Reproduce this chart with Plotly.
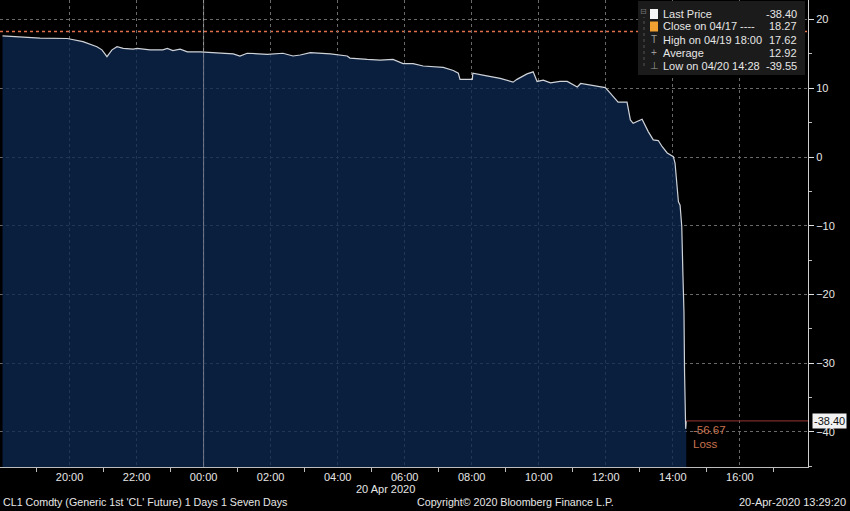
import plotly.graph_objects as go

# ---- data ----
times = [
    "2020-04-19 18:00", "2020-04-19 18:31", "2020-04-19 19:07", "2020-04-19 19:56",
    "2020-04-19 20:24", "2020-04-19 20:49", "2020-04-19 20:58", "2020-04-19 21:07",
    "2020-04-19 21:16", "2020-04-19 21:25", "2020-04-19 21:36", "2020-04-19 21:54",
    "2020-04-19 22:01", "2020-04-19 22:24", "2020-04-19 22:47", "2020-04-19 22:55",
    "2020-04-19 23:05", "2020-04-19 23:18", "2020-04-19 23:31", "2020-04-19 23:54",
    "2020-04-20 00:24", "2020-04-20 00:53", "2020-04-20 01:05", "2020-04-20 01:18",
    "2020-04-20 01:54", "2020-04-20 02:22", "2020-04-20 02:40", "2020-04-20 02:53",
    "2020-04-20 03:11", "2020-04-20 03:47", "2020-04-20 04:17", "2020-04-20 04:22",
    "2020-04-20 04:53", "2020-04-20 05:16", "2020-04-20 05:39", "2020-04-20 05:57",
    "2020-04-20 06:15", "2020-04-20 06:33", "2020-04-20 07:09", "2020-04-20 07:27",
    "2020-04-20 07:36", "2020-04-20 07:39", "2020-04-20 08:01", "2020-04-20 08:02",
    "2020-04-20 08:27", "2020-04-20 08:51", "2020-04-20 09:14", "2020-04-20 09:21",
    "2020-04-20 09:39", "2020-04-20 09:50", "2020-04-20 09:57", "2020-04-20 10:08",
    "2020-04-20 10:21", "2020-04-20 10:38", "2020-04-20 10:51", "2020-04-20 11:09",
    "2020-04-20 11:15", "2020-04-20 11:50", "2020-04-20 11:59", "2020-04-20 12:08",
    "2020-04-20 12:22", "2020-04-20 12:38", "2020-04-20 12:44", "2020-04-20 12:49",
    "2020-04-20 13:05", "2020-04-20 13:16", "2020-04-20 13:25", "2020-04-20 13:34",
    "2020-04-20 13:41", "2020-04-20 13:50", "2020-04-20 14:01", "2020-04-20 14:04",
    "2020-04-20 14:10", "2020-04-20 14:13", "2020-04-20 14:16", "2020-04-20 14:18",
    "2020-04-20 14:20", "2020-04-20 14:21", "2020-04-20 14:23", "2020-04-20 14:24",
]
prices = [
    17.62, 17.5, 17.3, 17.25,
    16.8, 16.05, 15.6, 14.6,
    15.6, 16.05, 15.8, 15.7,
    15.8, 15.6, 15.6, 15.8,
    15.5, 15.7, 15.3, 15.3,
    15.2, 15.0, 14.7, 15.1,
    14.95, 15.1, 14.7, 14.85,
    15.2, 15.0, 14.7, 14.4,
    14.2, 14.1, 14.2, 13.6,
    13.6, 13.25, 13.05, 12.6,
    12.2, 11.3, 11.3, 12.2,
    11.8, 11.45, 10.9, 11.3,
    12.1, 12.4, 11.0, 11.2,
    10.8, 11.0, 11.0, 10.2,
    10.7, 10.3, 10.1, 9.3,
    8.0, 8.0, 5.4, 4.9,
    5.5, 3.7, 2.5, 2.4,
    1.5, 0.6, 0.05, -0.9,
    -6.5, -7.0, -10.1, -16.9,
    -22.7, -31.4, -39.55, -38.40,
]

close_prev = 18.27
last_price = -38.40
change_value = "-56.67"
legend_labels = ["Last Price", "Close on 04/17 ----", "High on 04/19 18:00", "Average", "Low on 04/20 14:28"]
legend_values = ["-38.40", "18.27", "17.62", "12.92", "-39.55"]
y_ticks = [20, 10, 0, -10, -20, -30, -40]
x_ticks = ["2020-04-19 20:00", "2020-04-19 22:00", "2020-04-20 00:00", "2020-04-20 02:00",
           "2020-04-20 04:00", "2020-04-20 06:00", "2020-04-20 08:00", "2020-04-20 10:00",
           "2020-04-20 12:00", "2020-04-20 14:00", "2020-04-20 16:00"]
x_tick_labels = ["20:00", "22:00", "00:00", "02:00", "04:00", "06:00", "08:00",
                 "10:00", "12:00", "14:00", "16:00"]
x_range = ["2020-04-19 17:55:30", "2020-04-20 18:02"]
y_range = [-45.1, 22.85]
day_boundary = "2020-04-20 00:00"

FONT = "Liberation Sans, Arial, sans-serif"
TXT = "#e6e6e6"

fig = go.Figure()

# baseline for the area fill (bottom of the plotting area)
fig.add_trace(go.Scatter(x=[times[0], times[-1]], y=[y_range[0], y_range[0]],
                         mode="lines", line=dict(width=0), hoverinfo="skip",
                         showlegend=False))
fig.add_trace(go.Scatter(x=times, y=prices, mode="lines",
                         line=dict(color="#cfd3d8", width=1.2),
                         fill="tonexty", fillcolor="rgba(13,38,80,0.78)",
                         showlegend=False))

# close on 04/17 dotted line
fig.add_hline(y=close_prev, line=dict(color="#e0704a", width=1.5, dash="dot"), layer="below")
# day boundary
fig.add_vline(x=day_boundary, line=dict(color="rgba(190,190,190,0.55)", width=1), layer="above")
# last price line to right axis
fig.add_shape(type="line", xref="x", yref="y", x0=times[-1], x1=x_range[1],
              y0=last_price, y1=last_price, line=dict(color="#7a2a28", width=1.2))

# legend box
W, H = 808.0, 467.0
fig.add_shape(type="rect", xref="paper", yref="paper",
              x0=638 / W, x1=805 / W, y0=1 - 75 / H, y1=1 - 1 / H,
              fillcolor="#1b1b1b", line=dict(width=0), layer="above")
rows_y = [14, 26.5, 40, 53, 66]
for i, (lab, val) in enumerate(zip(legend_labels, legend_values)):
    yy = 1 - rows_y[i] / H
    fig.add_annotation(xref="paper", yref="paper", x=661 / W, y=yy, text=lab,
                       showarrow=False, xanchor="left", yanchor="middle",
                       font=dict(family=FONT, size=11, color=TXT))
    fig.add_annotation(xref="paper", yref="paper", x=799 / W, y=yy, text=val,
                       showarrow=False, xanchor="right", yanchor="middle",
                       font=dict(family=FONT, size=11, color=TXT))
# legend swatches / symbols
fig.add_shape(type="rect", xref="paper", yref="paper", x0=650 / W, x1=658 / W,
              y0=1 - 19 / H, y1=1 - 9 / H, fillcolor="#f4f4f4", line=dict(width=0))
fig.add_shape(type="rect", xref="paper", yref="paper", x0=650 / W, x1=658 / W,
              y0=1 - 31.5 / H, y1=1 - 21.5 / H, fillcolor="#f0a030", line=dict(width=0))
for sym, yy in zip(["T", "+", "\u22a5"], rows_y[2:]):
    fig.add_annotation(xref="paper", yref="paper", x=654 / W, y=1 - yy / H, text=sym,
                       showarrow=False, xanchor="center", yanchor="middle",
                       font=dict(family=FONT, size=10, color="#9a9a9a"))
fig.add_annotation(xref="paper", yref="paper", x=643 / W, y=1 - 12 / H, text="\u229f",
                   showarrow=False, xanchor="center", yanchor="middle",
                   font=dict(family="DejaVu Sans", size=8, color="#777"))
fig.add_shape(type="line", xref="paper", yref="paper", x0=644 / W, x1=644 / W,
              y0=1 - 66 / H, y1=1 - 17 / H, line=dict(color="#555", width=1, dash="dot"))

# last price tag on the axis
fig.add_annotation(xref="paper", yref="y", x=1, y=last_price, text=f"{last_price:.2f}",
                   showarrow=False, xanchor="left", yanchor="middle", xshift=4,
                   bgcolor="#f2f2f2", borderpad=1,
                   font=dict(family=FONT, size=11, color="#111"))
# change / loss labels
fig.add_annotation(xref="x", yref="y", x=times[-1], y=last_price, text=change_value,
                   showarrow=False, xanchor="left", yanchor="top", xshift=5, yshift=-1,
                   font=dict(family=FONT, size=11.5, color="#c8734e"))
fig.add_annotation(xref="x", yref="y", x=times[-1], y=last_price, text="Loss",
                   showarrow=False, xanchor="left", yanchor="top", xshift=5, yshift=-15,
                   font=dict(family=FONT, size=11.5, color="#c8734e"))

# date label and footer
fig.add_annotation(xref="paper", yref="paper", x=385 / W, y=1 - 489 / H, text="20 Apr 2020",
                   showarrow=False, xanchor="center", yanchor="middle",
                   font=dict(family=FONT, size=11, color=TXT))
fig.add_annotation(xref="paper", yref="paper", x=1 / W, y=1 - 502.5 / H,
                   text="CL1 Comdty (Generic 1st 'CL' Future) 1 Days 1 Seven Days",
                   showarrow=False, xanchor="left", yanchor="middle",
                   font=dict(family=FONT, size=10.7, color=TXT))
fig.add_annotation(xref="paper", yref="paper", x=515 / W, y=1 - 502.5 / H,
                   text="Copyright\u00a9 2020 Bloomberg Finance L.P.",
                   showarrow=False, xanchor="center", yanchor="middle",
                   font=dict(family=FONT, size=10.7, color=TXT))
fig.add_annotation(xref="paper", yref="paper", x=848 / W, y=1 - 502.5 / H,
                   text="20-Apr-2020 13:29:20",
                   showarrow=False, xanchor="right", yanchor="middle",
                   font=dict(family=FONT, size=11, color=TXT))

fig.update_layout(
    width=850, height=511,
    margin=dict(l=0, r=42, t=0, b=44),
    paper_bgcolor="#000000", plot_bgcolor="#000000",
    showlegend=False,
    font=dict(family=FONT, size=11, color=TXT),
    xaxis=dict(type="date", range=x_range, tickvals=x_ticks, ticktext=x_tick_labels,
               showgrid=True, gridcolor="#6a6a6a", griddash="dot", gridwidth=1,
               showline=True, linecolor="#bdbdbd", linewidth=1,
               ticks="", ticklen=0,
               minor=dict(dtick=2 * 3600 * 1000, tick0="2020-04-19 19:00", ticks="outside",
                          ticklen=4, tickcolor="#bdbdbd", showgrid=False),
               tickfont=dict(family=FONT, size=11, color=TXT),
               automargin=False, zeroline=False, fixedrange=True),
    yaxis=dict(range=y_range, side="right", tickvals=y_ticks,
               showgrid=True, gridcolor="#6a6a6a", griddash="dot", gridwidth=1,
               showline=True, linecolor="#d0d0d0", linewidth=1,
               ticks="outside", ticklen=5, tickcolor="#e0e0e0",
               minor=dict(dtick=5, ticks="outside", ticklen=3,
                          tickcolor="#bdbdbd", showgrid=False),
               tickfont=dict(family=FONT, size=11, color=TXT),
               automargin=False, zeroline=False, fixedrange=True),
)

fig.write_html("out.html", config={"displayModeBar": False},
               post_script="document.body.style.margin='0';document.body.style.padding='0';"
                           "document.body.style.background='#000';")
